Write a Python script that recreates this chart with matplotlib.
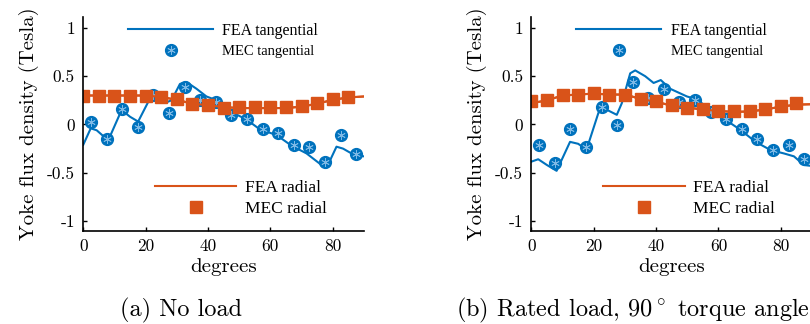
import matplotlib
matplotlib.use("Agg")
import matplotlib.pyplot as plt

plt.rcParams['font.family'] = ['cmr10', 'DejaVu Serif']
plt.rcParams['mathtext.fontset'] = 'cm'
plt.rcParams['axes.unicode_minus'] = False
plt.rcParams['axes.formatter.use_mathtext'] = True

BLUE = '#0072BD'
ORANGE = '#D95319'
STAR = '#7db9e6'

# MEC points
mec_tan_x = [2.5, 7.5, 12.5, 17.5, 22.5, 27.5, 32.5, 37.5, 42.5,
             47.5, 52.5, 57.5, 62.5, 67.5, 72.5, 77.5, 82.5, 87.5]
mec_rad_x = [0, 5, 10, 15, 20, 25, 30, 35, 40, 45, 50, 55, 60, 65, 70, 75, 80, 85]

mec_tan_a = [0.03, -0.15, 0.16, -0.03, 0.31, 0.12, 0.39, 0.25, 0.23,
             0.10, 0.06, -0.05, -0.09, -0.21, -0.23, -0.385, -0.11, -0.31]
mec_rad_a = [0.30, 0.30, 0.30, 0.30, 0.30, 0.28, 0.26, 0.21, 0.20,
             0.175, 0.18, 0.18, 0.18, 0.18, 0.19, 0.22, 0.26, 0.28]

mec_tan_b = [-0.21, -0.40, -0.05, -0.235, 0.18, -0.01, 0.445, 0.27, 0.37,
             0.23, 0.255, 0.13, 0.055, -0.05, -0.15, -0.26, -0.21, -0.36]
mec_rad_b = [0.24, 0.255, 0.31, 0.31, 0.33, 0.31, 0.31, 0.26, 0.24,
             0.20, 0.175, 0.16, 0.14, 0.135, 0.135, 0.16, 0.195, 0.22]

# FEA curves
fea_tan_a_x = [0, 2.4, 4.3, 8, 12.3, 15, 17.6, 21.4, 23, 26.7, 28.3, 31, 33.1,
               36.3, 39.5, 42.8, 47.5, 52.4, 56.6, 62, 66.8, 71.6, 76.4, 78,
               81.2, 83.3, 87.1, 90]
fea_tan_a = [-0.21, -0.04, -0.06, -0.165, 0.15, 0.08, 0.03, 0.27, 0.31, 0.23,
             0.25, 0.42, 0.44, 0.37, 0.29, 0.25, 0.13, 0.05, -0.05, -0.11,
             -0.22, -0.30, -0.42, -0.45, -0.23, -0.25, -0.32, -0.33]
fea_rad_x = [0, 5, 10, 15, 20, 25, 30, 35, 40, 45, 50, 55, 60, 65, 70, 75, 80, 85, 90]
fea_rad_a = [0.30, 0.30, 0.30, 0.30, 0.30, 0.285, 0.255, 0.215, 0.20, 0.18,
             0.17, 0.17, 0.17, 0.17, 0.185, 0.215, 0.255, 0.28, 0.29]

fea_tan_b_x = [0, 2.2, 5, 8.1, 12.4, 15, 17.7, 21.5, 23.1, 27.4, 29, 31.7, 33.3,
               36.5, 39.2, 41.5, 44.5, 49.9, 53.1, 57.4, 62.2, 67, 71.9, 76.7,
               81, 84.2, 87.4, 90]
fea_tan_b = [-0.385, -0.36, -0.42, -0.48, -0.18, -0.2, -0.26, 0.12, 0.17, 0.10,
             0.22, 0.53, 0.56, 0.50, 0.43, 0.46, 0.37, 0.29, 0.26, 0.15, 0.05,
             -0.055, -0.18, -0.265, -0.30, -0.33, -0.42, -0.43]
fea_rad_b = [0.22, 0.25, 0.30, 0.31, 0.32, 0.31, 0.31, 0.265, 0.235, 0.195,
             0.175, 0.155, 0.14, 0.13, 0.135, 0.155, 0.185, 0.205, 0.21]

yticks = [-1, -0.5, 0, 0.5, 1]
ytick_labels = ['-1', '-0.5', '0', '0.5', '1']
xticks = [0, 20, 40, 60, 80]

fig = plt.figure(figsize=(8.1, 3.24), dpi=100)
ax_a = fig.add_axes([0.1028, 0.288, 0.3465, 0.6586])
ax_b = fig.add_axes([0.656, 0.288, 0.3465, 0.6586])


def draw_panel(ax, fea_tx, fea_t, fea_r, mec_t, mec_r):
    l1, = ax.plot(fea_tx, fea_t, color=BLUE, lw=1.5)
    ax.plot(fea_rad_x, fea_r, color=ORANGE, lw=1.5)
    c, = ax.plot(mec_tan_x, mec_t, 'o', color=BLUE, ms=8.5, mec=BLUE)
    s, = ax.plot(mec_tan_x, mec_t, marker=(6, 2, 0), ls='none', color=STAR,
                 ms=6, mew=0.6)
    l2, = ax.plot(fea_rad_x, fea_r, color=ORANGE, lw=1.5)
    q, = ax.plot(mec_rad_x, mec_r, 's', color=ORANGE, ms=8, mec=ORANGE)

    ax.set_xlim(0, 90)
    ax.set_ylim(-1.1, 1.11)
    ax.set_xticks(xticks)
    ax.set_xticklabels([str(t) for t in xticks])
    ax.set_yticks(yticks)
    ax.set_yticklabels(ytick_labels)
    ax.tick_params(direction='in', length=3, width=1, labelsize=12.5, pad=6)
    for side in ['top', 'right']:
        ax.spines[side].set_visible(False)
    for side in ['left', 'bottom']:
        ax.spines[side].set_linewidth(1.2)
    ax.set_xlabel('degrees', fontsize=15, labelpad=3)
    ax.set_ylabel('Yoke flux density (Tesla)', fontsize=15, labelpad=6)

    leg1 = ax.legend([l1, (c, s)], ['FEA tangential', 'MEC tangential'],
                     loc='upper left', bbox_to_anchor=(0.16, 0.975),
                     frameon=False, borderpad=0, borderaxespad=0,
                     handlelength=5.3, handletextpad=0.6, labelspacing=0.35,
                     prop={'family': 'Liberation Serif', 'size': 11.5})
    leg1.get_texts()[1].set_fontsize(10.5)
    ax.add_artist(leg1)
    ax.legend([l2, q], ['FEA radial', 'MEC radial'],
              loc='upper left', bbox_to_anchor=(0.255, 0.24),
              frameon=False, borderpad=0, borderaxespad=0,
              handlelength=4.7, handletextpad=0.5, labelspacing=0.3,
              prop={'family': 'Liberation Serif', 'size': 12.5})


draw_panel(ax_a, fea_tan_a_x, fea_tan_a, fea_rad_a, mec_tan_a, mec_rad_a)
draw_panel(ax_b, fea_tan_b_x, fea_tan_b, fea_rad_b, mec_tan_b, mec_rad_b)

fig.text(181 / 810, 1 - 310 / 324, '(a) No load', fontsize=17.5,
         ha='center', va='center')
fig.text(633 / 810, 1 - 310 / 324, r'(b) Rated load, $90^\circ$ torque angle',
         fontsize=17.5, ha='center', va='center')

fig.savefig('out.png', dpi=100)
